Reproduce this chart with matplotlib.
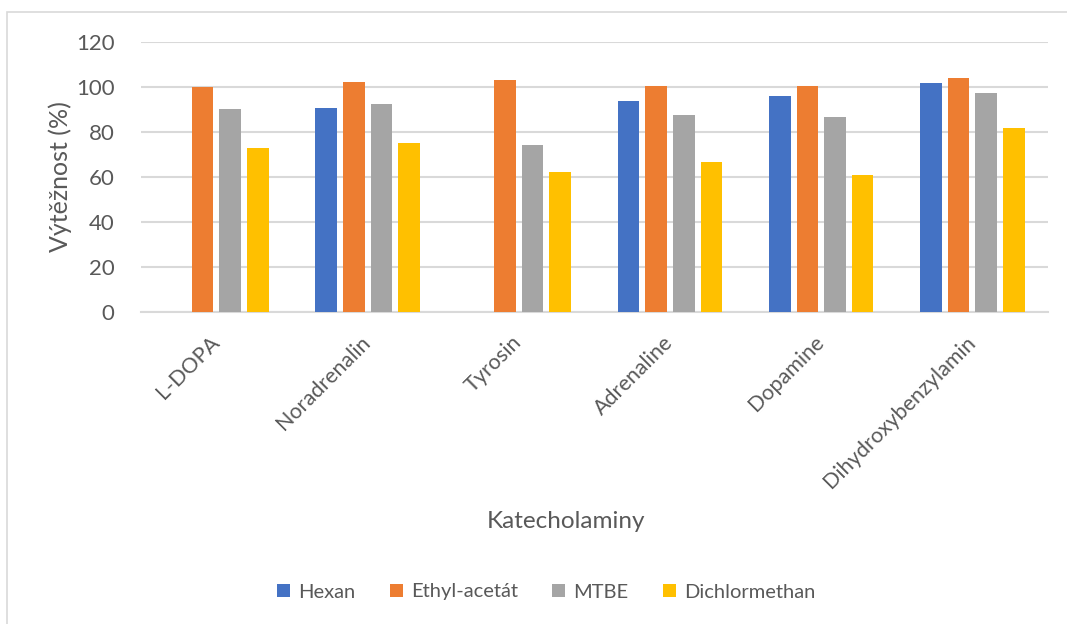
import numpy as np
import matplotlib
matplotlib.use("Agg")
import matplotlib.pyplot as plt
from matplotlib.patches import Rectangle

plt.rcParams['font.family'] = ['Lato', 'DejaVu Sans']

# recovery (%) per catecholamine and extraction solvent
categories = ["L-DOPA", "Noradrenalin", "Tyrosin", "Adrenaline", "Dopamine",
              "Dihydroxybenzylamin"]
hexan = [np.nan, 90.4, np.nan, 93.6, 96.0, 101.6]
ethyl_acetat = [100.0, 102.2, 103.0, 100.3, 100.1, 104.0]
mtbe = [90.1, 92.4, 74.1, 87.4, 86.4, 97.2]
dichlormethan = [72.9, 75.0, 61.9, 66.5, 60.7, 81.6]

series = [("Hexan", hexan, "#4472C4"),
          ("Ethyl-acetát", ethyl_acetat, "#ED7D31"),
          ("MTBE", mtbe, "#A5A5A5"),
          ("Dichlormethan", dichlormethan, "#FFC000")]

text_color = "#595959"
grid_color = "#D9D9D9"

fig = plt.figure(figsize=(10.67, 6.24), dpi=100)
ax = fig.add_axes([0.1319, 0.5005, 0.8503, 0.4327])

x = np.arange(len(categories))
step = 0.1825
width = 0.1435
for i, (name, vals, color) in enumerate(series):
    ax.bar(x + (i - 1.5) * step, vals, width, color=color, label=name,
           zorder=3)

ax.set_xlim(-0.5, len(categories) - 0.5)
ax.set_ylim(0, 120)
ax.set_yticks(np.arange(0, 121, 20))
ax.yaxis.grid(True, color=grid_color, linewidth=1.5, zorder=0)
for side in ["top", "right", "left"]:
    ax.spines[side].set_visible(False)
ax.spines["bottom"].set_color(grid_color)
ax.spines["bottom"].set_linewidth(1.5)
ax.tick_params(axis="y", length=0, pad=19, labelsize=16, labelcolor=text_color)
ax.tick_params(axis="x", length=0, pad=20, labelsize=15.5, labelcolor=text_color)

ax.set_xticks(x)
ax.set_xticklabels(categories, rotation=45, ha="right", va="center",
                   rotation_mode="anchor")

fig.text(60 / 1067, 1 - 177 / 624, "Výtěžnost (%)", rotation=90,
         ha="center", va="center", fontsize=18, color=text_color)
fig.text(566 / 1067, 1 - 521 / 624, "Katecholaminy", ha="center",
         va="center", fontsize=17.5, color=text_color)

fig.legend(loc="center", bbox_to_anchor=(546 / 1067, 1 - 592 / 624),
           ncol=4, frameon=False, fontsize=14.5, labelcolor=text_color,
           handlelength=0.65, handleheight=0.65, handletextpad=0.4,
           columnspacing=1.7)

# chart area border
fig.patches.append(Rectangle((7 / 1067, -0.1), 1.2, 1 - 12 / 624 + 0.1,
                             transform=fig.transFigure, fill=False,
                             edgecolor=grid_color, linewidth=1.2))

fig.savefig("out.png", dpi=100)
